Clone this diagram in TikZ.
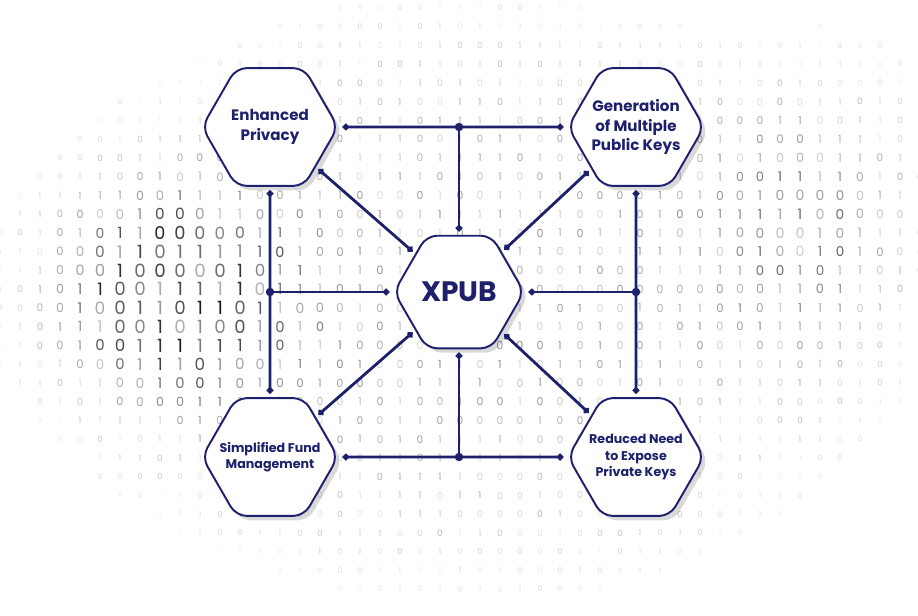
\documentclass[tikz,border=0pt]{standalone}
\usepackage{fontspec}
\setmainfont{Poppins}
\usetikzlibrary{positioning,arrows.meta,shapes.geometric,shadows,calc}
\definecolor{navy}{RGB}{30,32,108}

\begin{document}
\begin{tikzpicture}[x=0.02cm, y=-0.02cm,
  hexbox/.style={regular polygon, regular polygon sides=6, minimum size=2.72cm,
    inner xsep=-8pt, inner ysep=-4pt,
    draw=navy, line width=1.1pt, fill=white, rounded corners=6pt, align=center, text=navy,
    drop shadow={shadow xshift=2.5pt, shadow yshift=-2.5pt, opacity=.15, fill=black}},
  bigtext/.style={font=\bfseries\fontsize{8.6}{11}\selectfont},
  smalltext/.style={font=\bfseries\fontsize{7.2}{9.4}\selectfont},
  hub/.style={hexbox, minimum size=2.6cm, font=\bfseries\fontsize{16}{18}\selectfont},
  link/.style={draw=navy, line width=1.6pt},
  tips/.style={link, arrows={Circle[length=3.6pt]-Circle[length=3.6pt]}, shorten <=2pt, shorten >=2pt},
  bit/.style={inner sep=0pt, font=\fontsize{8}{8}\selectfont}
]
\useasboundingbox (0,0) rectangle (918,615);
\fill[white] (0,0) rectangle (918,615);

\pgfmathsetseed{11}
\foreach \i in {0,...,46}{
  \foreach \j in {0,...,32}{
    \pgfmathsetmacro\xx{20*\i}
    \pgfmathsetmacro\yy{8+18.75*\j}
    \pgfmathsetmacro\glow{min(1,0.42*max(0,1-((\xx-465)/475)^2-((\yy-300)/330)^2)+1.1*exp(max(-9,0-((\xx-170)/110)^2-((\yy-295)/95)^2))+0.5*exp(max(-9,0-((\xx-820)/120)^2-((\yy-215)/130)^2)))}
    \pgfmathsetmacro\ink{(10+85*\glow)*(0.3+0.7*rnd)}
    \pgfmathsetmacro\sz{0.45+0.85*\glow}
    \pgfmathrandominteger\bitval{0}{1}
    \ifdim\glow pt>0.06pt
      \node[bit, scale=\sz, text=black!\ink] (bit-\i-\j) at (\xx,\yy) {\bitval};
    \fi
  }
}

\node[hexbox, bigtext] (privacy) at (270,127) {Enhanced\\Privacy};
\node[hexbox, bigtext] (pubkeys) at (636,127) {Generation\\of Multiple\\Public Keys};
\node[hub] (xpub) at (459,292) {XPUB};
\node[hexbox, smalltext] (funds) at (270,457) {Simplified Fund\\Management};
\node[hexbox, smalltext] (privkeys) at (636,457) {Reduced Need\\to Expose\\Private Keys};

\coordinate (topjoin) at (xpub.north |- privacy.east);
\coordinate (leftjoin) at (privacy.south |- xpub.west);
\coordinate (rightjoin) at (pubkeys.south |- xpub.east);
\coordinate (botjoin) at (xpub.south |- funds.east);

\draw[tips] (privacy.east) -- (pubkeys.west);
\draw[tips] (privacy.south) -- (funds.north);
\draw[tips] (pubkeys.south) -- (privkeys.north);
\draw[tips] (funds.east) -- (privkeys.west);
\draw[link, arrows={-Circle[length=3.6pt]}, shorten >=2pt] (topjoin) -- (xpub.north);
\draw[link, arrows={-Circle[length=3.6pt]}, shorten >=2pt] (leftjoin) -- (xpub.west);
\draw[link, arrows={Circle[length=3.6pt]-}, shorten <=2pt] (xpub.east) -- (rightjoin);
\draw[link, arrows={-Circle[length=3.6pt]}, shorten >=2pt] (botjoin) -- (xpub.south);
\draw[tips] (privacy) -- (xpub);
\draw[tips] (pubkeys) -- (xpub);
\draw[tips] (xpub) -- (funds);
\draw[tips] (xpub) -- (privkeys);
\foreach \p in {topjoin,leftjoin,rightjoin,botjoin}
  \fill[navy] (\p) circle (2.4pt);
\end{tikzpicture}
\end{document}
